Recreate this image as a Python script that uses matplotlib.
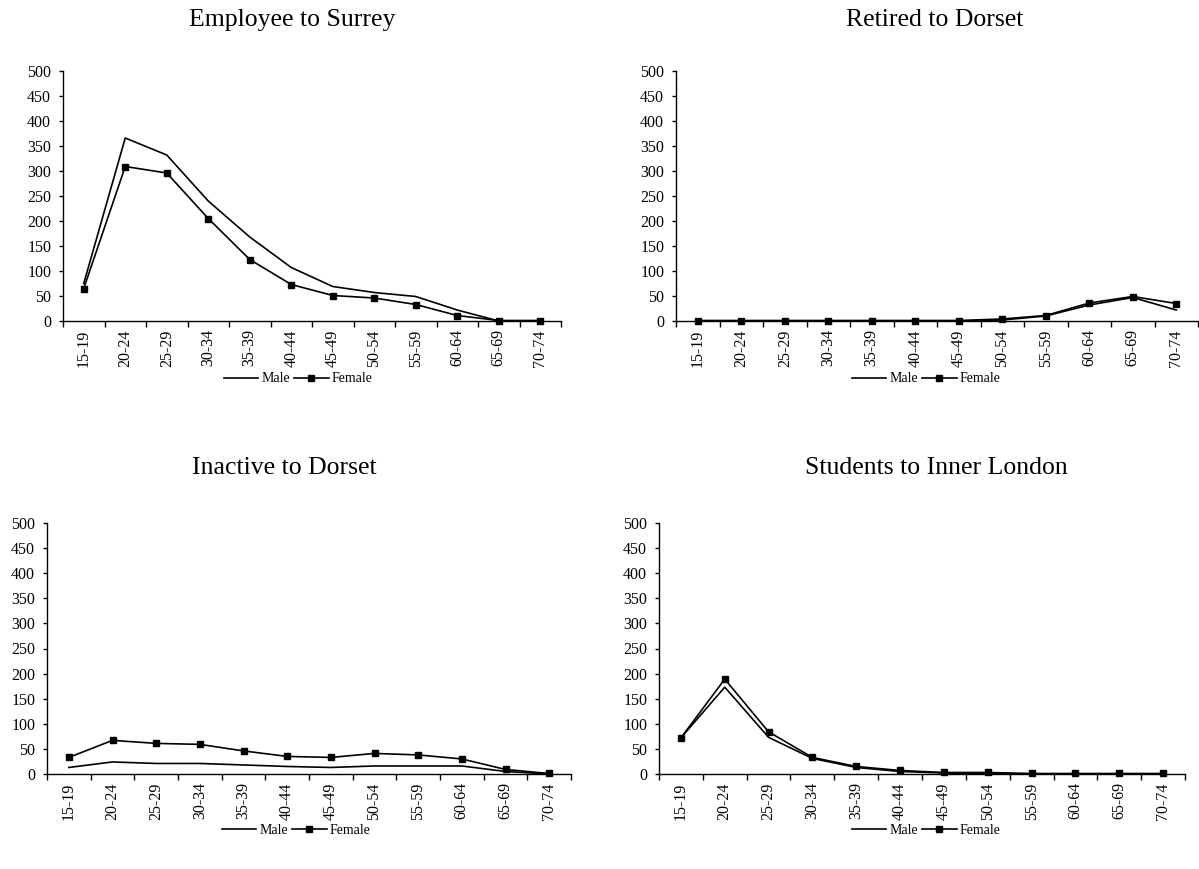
import matplotlib
matplotlib.use("Agg")
import matplotlib.pyplot as plt
import numpy as np

plt.rcParams['font.family'] = ['Liberation Serif', 'DejaVu Serif']

age_groups = ['15-19', '20-24', '25-29', '30-34', '35-39', '40-44',
              '45-49', '50-54', '55-59', '60-64', '65-69', '70-74']

titles = ['Employee to Surrey', 'Retired to Dorset',
          'Inactive to Dorset', 'Students to Inner London']

employee_male = [75, 366, 332, 240, 168, 107, 69, 57, 49, 22, 0, 0]
employee_female = [65, 309, 296, 205, 123, 73, 51, 46, 33, 11, 1, 1]

retired_male = [0, 0, 0, 0, 0, 0, 0, 2, 10, 32, 47, 22]
retired_female = [1, 1, 1, 1, 1, 1, 1, 4, 11, 36, 49, 35]

inactive_male = [13, 24, 21, 21, 18, 15, 13, 16, 16, 16, 5, 0]
inactive_female = [33, 67, 61, 59, 46, 35, 33, 41, 38, 30, 9, 1]

students_male = [72, 173, 73, 31, 13, 5, 2, 1, 0, 0, 0, 0]
students_female = [72, 189, 84, 33, 15, 7, 3, 3, 1, 1, 1, 1]

male_series = [employee_male, retired_male, inactive_male, students_male]
female_series = [employee_female, retired_female, inactive_female, students_female]

W, H = 1199, 869
fig = plt.figure(figsize=(W / 100, H / 100), dpi=100)

# axes boxes in pixels: left, right, top, bottom
boxes = [(63, 561, 71, 321), (676, 1198, 71, 321),
         (47, 571, 523, 774), (659, 1185, 523, 774)]
title_pos = [(292, 20), (935, 20), (284, 468), (936, 468)]
legend_pos = [(298, 379), (926, 379), (296, 830), (926, 830)]

x = np.arange(len(age_groups)) + 0.5

for i in range(4):
    l, r, t, b = boxes[i]
    ax = fig.add_axes([l / W, 1 - b / H, (r - l) / W, (b - t) / H])
    ax.plot(x, male_series[i], color='black', lw=1.2, label='Male',
            clip_on=False)
    ax.plot(x, female_series[i], color='black', lw=1.2, marker='s',
            markersize=4.5, label='Female', clip_on=False)

    ax.set_xlim(0, len(age_groups))
    ax.set_ylim(0, 500)
    ax.set_yticks(range(0, 501, 50))
    ax.set_xticks(range(len(age_groups) + 1))
    ax.set_xticklabels([])
    ax.set_xticks(x, minor=True)
    ax.set_xticklabels(age_groups, minor=True, rotation=90)
    ax.tick_params(axis='x', which='minor', length=0, pad=6, labelsize=11.5)
    ax.tick_params(axis='x', which='major', length=4, width=1)
    ax.tick_params(axis='y', length=3, width=1, labelsize=11.5, pad=5.5)
    for side in ['top', 'right']:
        ax.spines[side].set_visible(False)
    ax.spines['left'].set_linewidth(1)
    ax.spines['bottom'].set_linewidth(1)

    tx, ty = title_pos[i]
    fig.text(tx / W, 1 - ty / H, titles[i], fontsize=18.5,
             ha='center', va='center')

    lx, ly = legend_pos[i]
    ax.legend(loc='center', bbox_to_anchor=(lx / W, 1 - ly / H),
              bbox_transform=fig.transFigure, ncol=2, frameon=False,
              fontsize=10, handlelength=2.5, handletextpad=0.2,
              columnspacing=0.3, borderpad=0)

fig.savefig('out.png', dpi=100)
